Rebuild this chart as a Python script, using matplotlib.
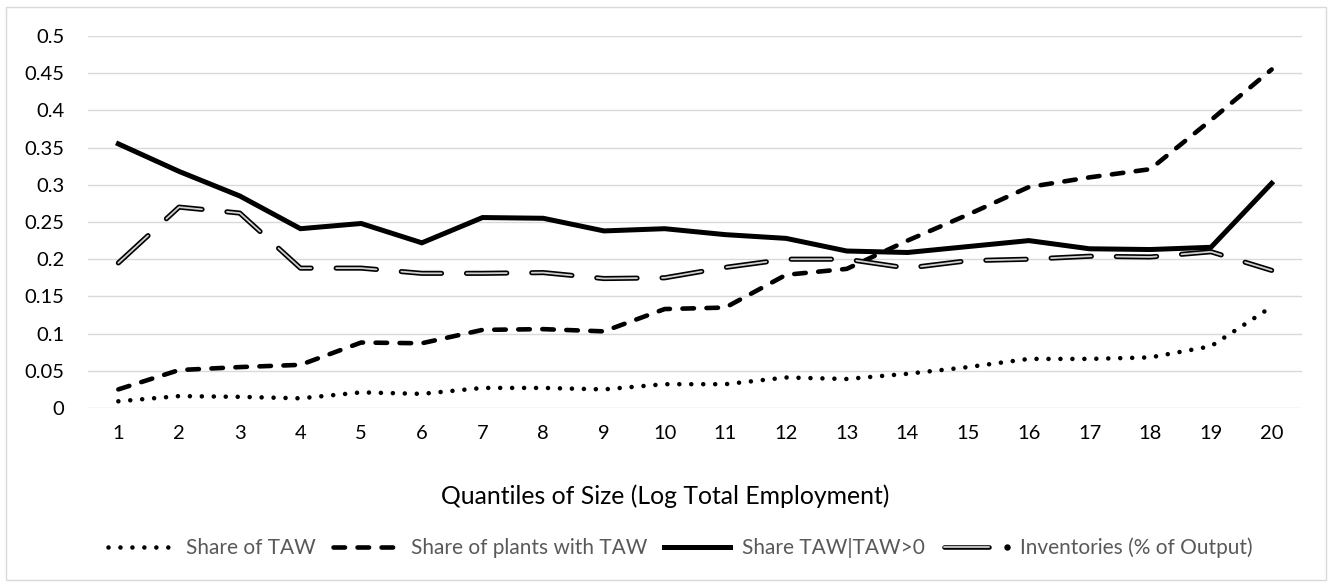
import matplotlib
matplotlib.use("Agg")
import matplotlib.pyplot as plt
import numpy as np
from matplotlib.lines import Line2D
from matplotlib.patches import Rectangle
from matplotlib.legend_handler import HandlerBase

plt.rcParams['font.family'] = ['Lato', 'DejaVu Sans']
plt.rcParams['lines.scale_dashes'] = False

quantiles = np.arange(1, 21)

share_taw = [0.009, 0.016, 0.015, 0.013, 0.021, 0.019, 0.027, 0.027, 0.025, 0.032,
             0.032, 0.041, 0.039, 0.046, 0.055, 0.066, 0.066, 0.068, 0.083, 0.136]
share_plants = [0.025, 0.051, 0.055, 0.058, 0.088, 0.087, 0.105, 0.106, 0.103, 0.133,
                0.135, 0.179, 0.187, 0.225, 0.260, 0.297, 0.310, 0.321, 0.387, 0.455]
share_cond = [0.355, 0.318, 0.285, 0.241, 0.248, 0.222, 0.256, 0.255, 0.238, 0.241,
              0.233, 0.228, 0.211, 0.209, 0.217, 0.225, 0.214, 0.213, 0.216, 0.302]
inventories = [0.195, 0.270, 0.262, 0.188, 0.188, 0.181, 0.181, 0.182, 0.174, 0.175,
               0.189, 0.200, 0.200, 0.188, 0.198, 0.200, 0.204, 0.203, 0.210, 0.185]

labels = ['Share of TAW', 'Share of plants with TAW', 'Share TAW|TAW>0',
          'Inventories (% of Output)']

GRID = '#d9d9d9'
LW = 3.3

# dash patterns in points (round caps add lw/2 on each end)
DOT = (0.01, 8.6)
DASH = (8.3, 9.0)
LONG_OUT = (29.0, 18.0)
INNER_COLOR = '#cfcfcf'


class DoubleLineHandler(HandlerBase):
    # double line segment followed by a single dot, like the dashed pattern cut short
    def create_artists(self, legend, orig_handle, xdescent, ydescent,
                       width, height, fontsize, trans):
        y = height / 2 - ydescent
        x0 = -xdescent
        x1 = x0 + width * 0.72
        outer = Line2D([x0 + 2, x1], [y, y], color='black', lw=LW,
                       solid_capstyle='round')
        inner = Line2D([x0 + 2, x1], [y, y], color=INNER_COLOR, lw=1.3,
                       solid_capstyle='round')
        dot = Line2D([x0 + width - 1], [y], marker='o', markersize=3.6,
                     color='black', lw=0)
        for a in (outer, inner, dot):
            a.set_transform(trans)
        return [outer, inner, dot]


fig = plt.figure(figsize=(13.31, 5.86), dpi=100)
ax = fig.add_axes([88 / 1331, 1 - 408 / 586, (1302 - 88) / 1331, (408 - 36) / 586])

# chart frame
fig.patches.append(Rectangle((6 / 1331, 1 - 580 / 586), 1320 / 1331, 573 / 586,
                             transform=fig.transFigure, fill=False,
                             edgecolor=GRID, lw=1.0))

ax.plot(quantiles, share_taw, color='black', lw=LW, dashes=DOT,
        dash_capstyle='round', zorder=3)
ax.plot(quantiles, share_plants, color='black', lw=LW, dashes=DASH,
        dash_capstyle='round', zorder=3)
ax.plot(quantiles, share_cond, color='black', lw=LW + 0.3,
        solid_joinstyle='miter', zorder=3)
ax.plot(quantiles, inventories, color='black', lw=LW + 0.4, dashes=LONG_OUT,
        dash_capstyle='round', zorder=4)
ax.plot(quantiles, inventories, color=INNER_COLOR, lw=1.3, dashes=LONG_OUT,
        dash_capstyle='round', zorder=4)

ax.set_xlim(0.5, 20.5)
ax.set_ylim(0, 0.5)
ax.set_xticks(quantiles)
ax.set_xticklabels([str(q) for q in quantiles])
yt = np.arange(0, 0.51, 0.05)
ax.set_yticks(yt)
ax.set_yticklabels(['0'] + [f'{v:g}' for v in yt[1:]])
ax.tick_params(axis='both', length=0, labelsize=14.5, colors='black')
ax.tick_params(axis='x', pad=12)
ax.tick_params(axis='y', pad=17)
ax.grid(axis='y', color=GRID, lw=1.0)
ax.set_axisbelow(True)
for s in ax.spines.values():
    s.set_visible(False)

# axis title is centred on the whole chart, not on the plot area
fig.text(0.5, 1 - 496 / 586, 'Quantiles of Size (Log Total Employment)',
         fontsize=17.8, color='black', ha='center', va='center')

handles = [
    Line2D([], [], color='black', lw=LW, dashes=DOT, dash_capstyle='round'),
    Line2D([], [], color='black', lw=LW, dashes=DASH, dash_capstyle='round'),
    Line2D([], [], color='black', lw=LW + 0.3),
    Line2D([], [], color='black', lw=LW),
]
leg = fig.legend(handles, labels, loc='center', ncol=4,
                 bbox_to_anchor=(0.511, 1 - 548 / 586), frameon=False,
                 fontsize=15, handlelength=3.2, handletextpad=0.55,
                 columnspacing=0.8,
                 handler_map={handles[3]: DoubleLineHandler()})
for t in leg.get_texts():
    t.set_color('#595959')

fig.savefig('out.png', dpi=100)
